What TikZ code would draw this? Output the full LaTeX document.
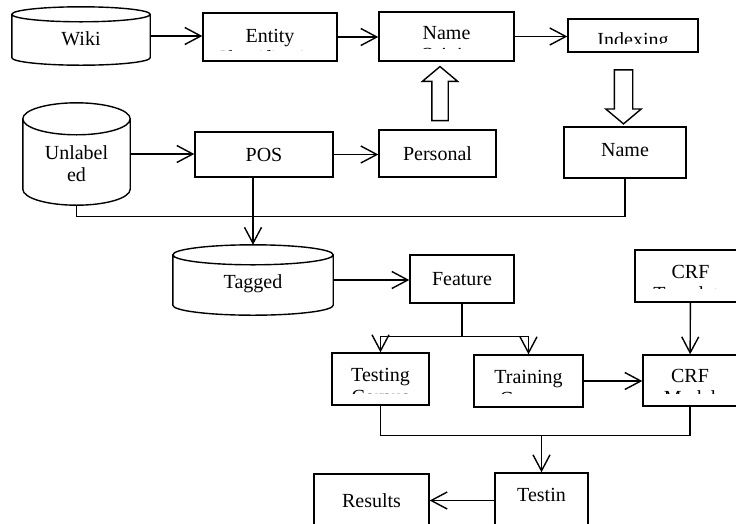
\documentclass[tikz,border=0pt]{standalone}
\usepackage{fontspec}
\setmainfont{Liberation Serif}
\usetikzlibrary{shapes.arrows,arrows.meta,calc}

% text cut off at the lower edge of its box
\newcommand{\cuttext}[4]{%
  \begin{scope}
    \clip (#1.north west) rectangle ([yshift=#3]#1.south east);
    \node[txt, anchor=base] (#1-txt) at ([yshift=-#2]#1.north) {#4};
  \end{scope}}

% drum outline round a store node, #2 = depth of the caps
\newcommand{\drum}[2]{%
  \draw[conn] let \p1=(#1.north west), \p2=(#1.south east), \n1={(\x2-\x1)/2} in
    ([yshift=-#2]#1.north west) -- ([yshift=#2]#1.south west)
    arc[start angle=180, end angle=360, x radius=\n1, y radius=#2]
    -- ([yshift=-#2]#1.north east)
    ([yshift=-#2]#1.north) ellipse [x radius=\n1, y radius=#2];}

\tikzset{
  every node/.style={font=\fontsize{20}{22}\selectfont},
  box/.style={draw, line width=1.4pt, inner sep=0pt},
  store/.style={inner sep=0pt},
  txt/.style={inner sep=0pt, align=center},
  conn/.style={line width=1.4pt},
  arr/.style={conn, -{Straight Barb[length=16pt,width=17pt]}},
  fat/.style={draw, line width=1.4pt, single arrow, single arrow tip angle=100},
}

\begin{document}
\begin{tikzpicture}[x=1pt, y=-1pt]
  \useasboundingbox (0,0) rectangle (736,523);
  \clip (0,0) rectangle (736,523);

  % name origin chain
  \node[store, minimum width=138pt, minimum height=58pt] (wiki) at (81,36) {};
  \drum{wiki}{7.5pt}
  \node[txt, anchor=base] (wiki-txt) at (81,45) {Wiki};
  \node[box, minimum width=134pt, minimum height=48pt] (entity) at (270,37) {};
  \node[box, minimum width=135pt, minimum height=49pt] (origin) at (446.5,36.5) {};
  \node[box, minimum width=130pt, minimum height=33pt] (index) at (633,35.5) {};
  \cuttext{entity}{52pt}{11.5pt}{Entity\\Classification}
  \cuttext{origin}{50pt}{13pt}{Name\\Origin}
  \cuttext{index}{28pt}{9pt}{Indexing}

  \node[store, minimum width=107pt, minimum height=102pt] (unlab) at (76.5,154) {};
  \drum{unlab}{16pt}
  \node[txt, anchor=base] (unlab-txt) at (76.5,181) {Unlabel\\ed};
  \node[box, minimum width=138pt, minimum height=45pt] (pos) at (264,154.5) {POS};
  \node[box, minimum width=117pt, minimum height=47pt] (personal) at (437.5,153.5) {Personal};
  \node[box, minimum width=122pt, minimum height=51pt] (search) at (625,152.5) {};
  \node[txt] (search-txt) at (625,150) {Name};

  \node[fat, inner sep=7.5pt, single arrow head extend=9.5pt, minimum height=54pt,
    shape border rotate=90] (up) at (440,97) {};
  \node[fat, inner sep=8.5pt, single arrow head extend=8.5pt, minimum height=54pt,
    shape border rotate=270] (down) at (623.5,93) {};

  \draw[arr] (wiki.east) -- (wiki.east -| entity.west);
  \draw[arr] (entity.east) -- (entity.east -| origin.west);
  \draw[arr] (origin.east) -- (origin.east -| index.west);
  \draw[arr] (unlab.east) -- (unlab.east -| pos.west);
  \draw[arr] (pos.east) -- (pos.east -| personal.west);
  \draw[conn] (unlab.south) -- ++(0,11) -| (search.south);

  % tagging and CRF
  \node[store, minimum width=160pt, minimum height=70pt] (tagged) at (253,280) {};
  \drum{tagged}{10pt}
  \node[txt, anchor=base] (tagged-txt) at (253,288) {Tagged};
  \node[box, minimum width=104pt, minimum height=48pt] (feature) at (462,279) {Feature};
  \node[box, minimum width=111pt, minimum height=52pt] (templ) at (690.5,276) {};
  \cuttext{templ}{51pt}{14pt}{CRF\\Template}

  \node[box, minimum width=97pt, minimum height=52pt] (testing) at (380.5,379) {};
  \node[box, minimum width=109pt, minimum height=52pt] (training) at (528.5,381) {};
  \node[box, minimum width=94pt, minimum height=51pt] (model) at (690,380.5) {};
  \cuttext{testing}{51pt}{12.5pt}{Testing\\Corpus}
  \cuttext{training}{51pt}{14pt}{Training\\Corpus}
  \cuttext{model}{50pt}{13pt}{CRF\\Model}

  \node[box, minimum width=115pt, minimum height=53pt] (results) at (371.5,500.5) {Results};
  \node[box, minimum width=93pt, minimum height=54pt] (testrun) at (541.5,500) {};
  \node[txt] (testrun-txt) at (541.5,495) {Testin};

  \draw[arr] (pos.south -| tagged.north) -- (tagged.north);
  \draw[arr] (tagged.east) -- (tagged.east -| feature.west);
  \draw[conn] (feature.south) -- ++(0,33) coordinate (split);
  \draw[arr] (split) -| (testing.north);
  \draw[arr] (split) -| (training.north);
  \draw[arr] (templ) -- (model);
  \draw[arr] (training.east) -- (training.east -| model.west);
  \draw[conn] (testing.south) -- ++(0,30) coordinate (merge) -| (model.south);
  \draw[arr] (merge -| testrun.north) -- (testrun.north);
  \draw[arr] (testrun.west |- results.east) -- (results.east);
\end{tikzpicture}
\end{document}
